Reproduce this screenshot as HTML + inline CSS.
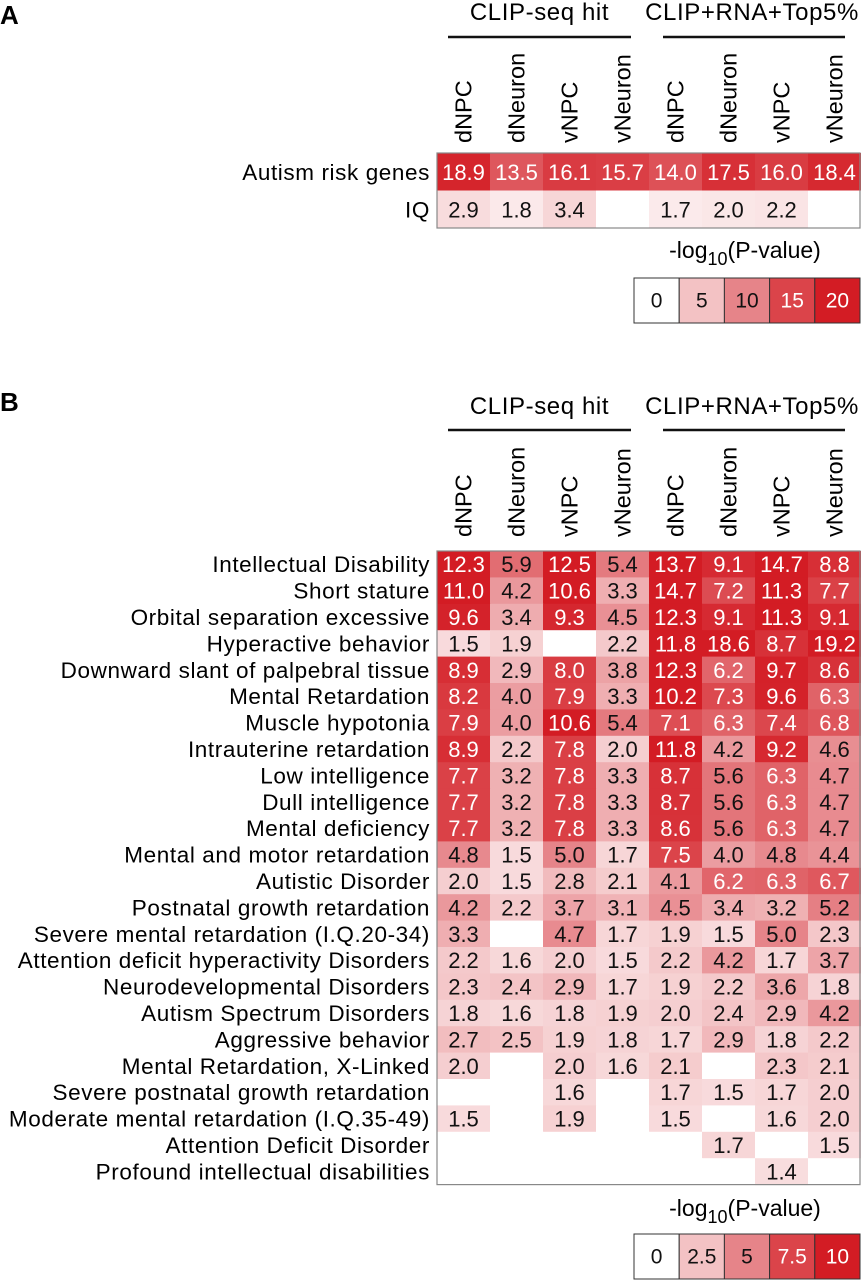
<!DOCTYPE html>
<html><head><meta charset="utf-8"><style>
html,body{margin:0;padding:0;background:#fff;}
svg{display:block;font-family:"Liberation Sans",sans-serif;}
</style></head><body>
<svg id="fig" width="861" height="1280" viewBox="0 0 861 1280"></svg>
<script>
const columns = ["dNPC","dNeuron","vNPC","vNeuron","dNPC","dNeuron","vNPC","vNeuron"];
const groups = ["CLIP-seq hit","CLIP+RNA+Top5%"];
const rowsA = ["Autism risk genes","IQ"];
const valuesA = [
 [18.9,13.5,16.1,15.7,14.0,17.5,16.0,18.4],
 [2.9,1.8,3.4,null,1.7,2.0,2.2,null]
];
const legendA = [0,5,10,15,20];
const rowsB = ["Intellectual Disability","Short stature","Orbital separation excessive","Hyperactive behavior","Downward slant of palpebral tissue","Mental Retardation","Muscle hypotonia","Intrauterine retardation","Low intelligence","Dull intelligence","Mental deficiency","Mental and motor retardation","Autistic Disorder","Postnatal growth retardation","Severe mental retardation (I.Q.20-34)","Attention deficit hyperactivity Disorders","Neurodevelopmental Disorders","Autism Spectrum Disorders","Aggressive behavior","Mental Retardation, X-Linked","Severe postnatal growth retardation","Moderate mental retardation (I.Q.35-49)","Attention Deficit Disorder","Profound intellectual disabilities"];
const valuesB = [
 [12.3,5.9,12.5,5.4,13.7,9.1,14.7,8.8],
 [11.0,4.2,10.6,3.3,14.7,7.2,11.3,7.7],
 [9.6,3.4,9.3,4.5,12.3,9.1,11.3,9.1],
 [1.5,1.9,null,2.2,11.8,18.6,8.7,19.2],
 [8.9,2.9,8.0,3.8,12.3,6.2,9.7,8.6],
 [8.2,4.0,7.9,3.3,10.2,7.3,9.6,6.3],
 [7.9,4.0,10.6,5.4,7.1,6.3,7.4,6.8],
 [8.9,2.2,7.8,2.0,11.8,4.2,9.2,4.6],
 [7.7,3.2,7.8,3.3,8.7,5.6,6.3,4.7],
 [7.7,3.2,7.8,3.3,8.7,5.6,6.3,4.7],
 [7.7,3.2,7.8,3.3,8.6,5.6,6.3,4.7],
 [4.8,1.5,5.0,1.7,7.5,4.0,4.8,4.4],
 [2.0,1.5,2.8,2.1,4.1,6.2,6.3,6.7],
 [4.2,2.2,3.7,3.1,4.5,3.4,3.2,5.2],
 [3.3,null,4.7,1.7,1.9,1.5,5.0,2.3],
 [2.2,1.6,2.0,1.5,2.2,4.2,1.7,3.7],
 [2.3,2.4,2.9,1.7,1.9,2.2,3.6,1.8],
 [1.8,1.6,1.8,1.9,2.0,2.4,2.9,4.2],
 [2.7,2.5,1.9,1.8,1.7,2.9,1.8,2.2],
 [2.0,null,2.0,1.6,2.1,null,2.3,2.1],
 [null,null,1.6,null,1.7,1.5,1.7,2.0],
 [1.5,null,1.9,null,1.5,null,1.6,2.0],
 [null,null,null,null,null,1.7,null,1.5],
 [null,null,null,null,null,null,1.4,null]
];
const legendB = [0,2.5,5,7.5,10];

const NS="http://www.w3.org/2000/svg";
const svg=document.getElementById('fig');
const stops=[[255,255,255],[243,194,196],[230,132,137],[219,68,74],[211,28,36]];
function colorFor(v,max){
  if(v==null) return "#ffffff";
  let t=Math.max(0,Math.min(1,v/max))*4;
  let i=Math.min(3,Math.floor(t)),f=t-i;
  const c=stops[i].map((a,k)=>Math.round(a+(stops[i+1][k]-a)*f));
  return `rgb(${c[0]},${c[1]},${c[2]})`;
}
function el(tag,attrs,txt){const e=document.createElementNS(NS,tag);for(const k in attrs)e.setAttribute(k,attrs[k]);if(txt!=null)e.textContent=txt;svg.appendChild(e);return e;}

const gx0=437,gx1=861,cw=(gx1-gx0)/columns.length;
function xCol(i){return gx0+cw*i;}

function panel(letter,letterY,groupY,lineY,labelBottom,rows,values,top,rh,max,legend,legTitleY,legTop,legH,whiteAt){
  let t=el('text',{x:0,y:letterY,'font-size':26,'font-weight':'bold'},letter);
  
  
  const gl=[[448,631],[663,845]];
  groups.forEach((g,i)=>{
    let gt=el('text',{x:(gl[i][0]+gl[i][1])/2+(i?-2:0),y:groupY,'font-size':24,'text-anchor':'middle','letter-spacing':0.6},g);
    
    
    let ln=el('line',{x1:gl[i][0],x2:gl[i][1],y1:lineY,y2:lineY,stroke:'#111','stroke-width':2.5});
    
    
  });
  columns.forEach((c,i)=>{
    const cx=xCol(i)+cw/2+8;
    let ct=el('text',{x:cx,y:labelBottom,'font-size':23.5,transform:`rotate(-90 ${cx} ${labelBottom})`},c);
    
    
  });
  rows.forEach((r,ri)=>{
    const y=top+rh*ri;
    let rt=el('text',{x:430,y:y+rh/2+8,'font-size':22.5,'letter-spacing':0.6,'text-anchor':'end'},r);
    
    
    values[ri].forEach((v,ci)=>{
      let rc=el('rect',{x:xCol(ci),y:y,width:cw+0.5,height:rh+0.5,fill:colorFor(v,max)});
      
      
      if(v!=null){
        let vt=el('text',{x:xCol(ci)+cw/2,y:y+rh/2+8,'font-size':22,'text-anchor':'middle',fill:v>=whiteAt?'#fff':'#111'},v.toFixed(1));
        
        
      }
    });
  });
  let bd=el('rect',{x:gx0,y:top,width:gx1-gx0-1,height:rh*rows.length,fill:'none',stroke:'#888','stroke-width':1.2});
  
  
  let lt=el('text',{x:745,y:legTitleY,'font-size':23,'text-anchor':'middle'});
  
  
  lt.innerHTML='-log<tspan font-size="18" dy="7">10</tspan><tspan dy="-7">(P-value)</tspan>';
  const lx0=634,lw=(860-lx0)/legend.length;
  legend.forEach((v,i)=>{
    let r=el('rect',{x:lx0+lw*i,y:legTop,width:lw,height:legH,fill:colorFor(v,max),stroke:'#333','stroke-width':1});
    
    
    let tx=el('text',{x:lx0+lw*i+lw/2,y:legTop+legH/2+7,'font-size':21,'text-anchor':'middle',fill:v>=max*0.75?'#fff':'#111'},String(v));
    
    
  });
}
panel('A',24,20,37,143,rowsA,valuesA,153,37.5,20,legendA,258,278,45,12);
panel('B',411,414,430,537,rowsB,valuesB,551,26.4,10,legendB,1216,1234,45,6);
</script>
</body></html>
